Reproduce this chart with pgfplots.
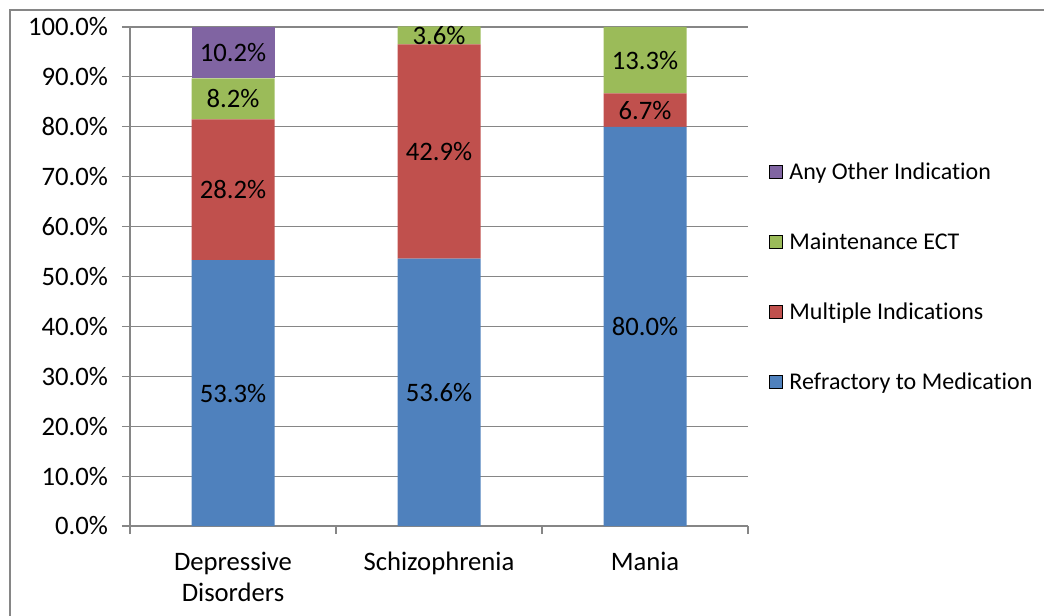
\documentclass[border=0pt]{standalone}
\usepackage{pgfplots}
\pgfplotsset{compat=1.18}
\usepackage{fontspec}
\setmainfont{Carlito}[Ligatures=NoCommon]
\definecolor{cblue}{HTML}{4F81BD}
\definecolor{cred}{HTML}{C0504D}
\definecolor{cgreen}{HTML}{9BBB59}
\definecolor{cpurple}{HTML}{8064A2}
\definecolor{cgrid}{HTML}{868686}
\newcommand{\cfont}{\fontsize{20}{23}\selectfont}
\newcommand{\lfont}{\fontsize{18}{21}\selectfont}
\begin{document}
\begin{tikzpicture}
\useasboundingbox (0,0) rectangle (783pt,461.25pt);
\draw[cgrid, line width=1.5pt] (7.5pt,-10pt) -- (7.5pt,453.75pt) -- (800pt,453.75pt);
\begin{axis}[
  at={(97.5pt,66.75pt)}, anchor=south west,
  scale only axis, width=463.5pt, height=374.25pt,
  /pgf/number format/assume math mode=true,
  clip=false,
  ybar stacked, bar width=62.25pt,
  xmin=-0.5, xmax=2.5, ymin=0, ymax=100,
  xtick={-0.5,0.5,1.5,2.5}, xticklabels={},
  extra x ticks={0,1,2},
  extra x tick labels={{Depressive\\Disorders},Schizophrenia,Mania},
  extra x tick style={major tick length=0pt, tick label style={align=center, font=\cfont, yshift=-16pt}},
  ytick={0,10,...,100},
  yticklabel={\pgfmathprintnumber[fixed,fixed zerofill,precision=1]{\tick}\%},
  yticklabel style={font=\cfont, xshift=-7pt},
  tick align=outside, major tick length=6pt,
  axis x line*=bottom, axis y line*=left,
  axis line style={cgrid, line width=0.9pt},
  tick style={cgrid, line width=0.9pt},
  ymajorgrids, grid style={cgrid, line width=0.9pt},
  nodes near coords={\pgfmathprintnumber[fixed,fixed zerofill,precision=1]{\pgfplotspointmeta}\%},
  every node near coord/.append style={anchor=center, font=\cfont, text=black},
  legend style={at={(1.0275,0.7395)}, anchor=north west, draw=none, fill=none, font=\lfont, row sep=34.5pt,
    /tikz/every odd column/.append style={column sep=3pt}},
  legend cell align=left,
  reverse legend,
  legend image code/.code={\draw[#1] (0pt,-4.9pt) rectangle (9.75pt,4.9pt);},
]
\addplot[fill=cblue, draw=none] coordinates {(0,53.3) (1,53.6) (2,80.0)};
\addplot[fill=cred, draw=none] coordinates {(0,28.2) (1,42.9) (2,6.7)};
\addplot[fill=cgreen, draw=none] coordinates {(0,8.2) (1,3.6) (2,13.3)};
\addplot[fill=cpurple, draw=none] coordinates {(0,10.2)};
\legend{Refractory to Medication, Multiple Indications, Maintenance ECT, Any Other Indication}
\end{axis}
\end{tikzpicture}
\end{document}
